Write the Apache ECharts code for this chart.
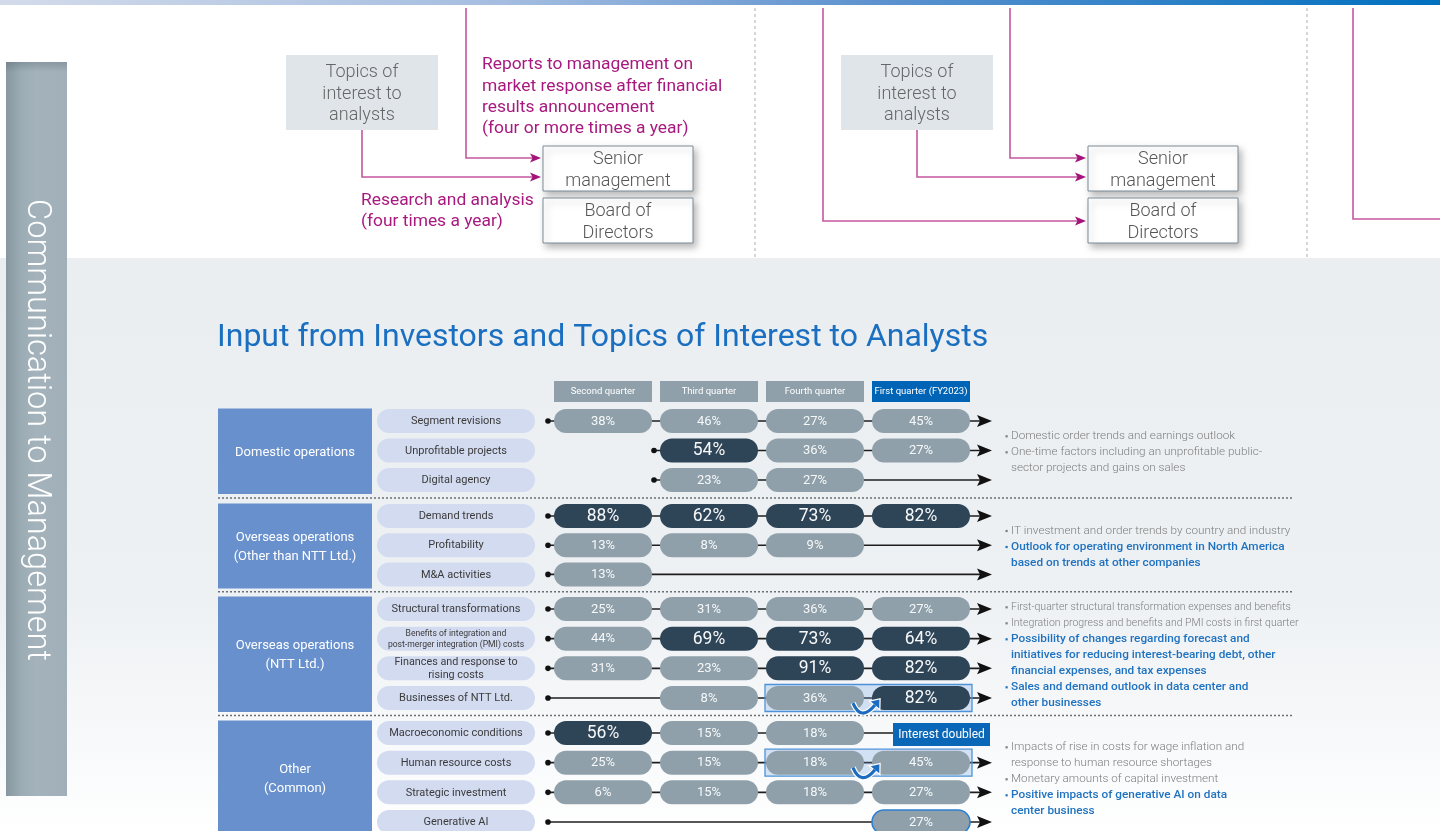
<!DOCTYPE html>
<html><head><meta charset="utf-8">
<script src="https://cdn.jsdelivr.net/npm/echarts@6/dist/echarts.min.js"></script>
<style>html,body{margin:0;padding:0;background:#fff}#c{width:1440px;height:831px}</style>
</head><body><div id="c"></div>
<script>
// ---------------- data ----------------
const quarters = ['Second quarter', 'Third quarter', 'Fourth quarter', 'First quarter (FY2023)'];
const groupNames = ['Domestic operations', 'Overseas operations\n(Other than NTT Ltd.)', 'Overseas operations\n(NTT Ltd.)', 'Other\n(Common)'];

const domesticTopics = ['Segment revisions', 'Unprofitable projects', 'Digital agency'];
const domesticShares = [[38, 46, 27, 45], [null, 54, 36, 27], [null, 23, 27, null]];
const domesticFirstQuarter = [0, 1, 1];

const overseasTopics = ['Demand trends', 'Profitability', 'M&A activities'];
const overseasShares = [[88, 62, 73, 82], [13, 8, 9, null], [13, null, null, null]];
const overseasFirstQuarter = [0, 0, 0];

const nttTopics = ['Structural transformations', 'Benefits of integration and\npost-merger integration (PMI) costs', 'Finances and response to\nrising costs', 'Businesses of NTT Ltd.'];
const nttShares = [[25, 31, 36, 27], [44, 69, 73, 64], [31, 23, 91, 82], [null, 8, 36, 82]];
const nttFirstQuarter = [0, 0, 0, 0];

const otherTopics = ['Macroeconomic conditions', 'Human resource costs', 'Strategic investment', 'Generative AI'];
const otherShares = [[56, 15, 18, null], [25, 15, 18, 45], [6, 15, 18, 27], [null, null, null, 27]];
const otherFirstQuarter = [0, 0, 0, 0];

const doubledTopics = [['Businesses of NTT Ltd.', 2, 3], ['Human resource costs', 2, 3]];
const doubledLabel = 'Interest doubled';
const doubledLabelTopic = 'Macroeconomic conditions';
const newTopics = [['Generative AI', 3]];

const domesticNotes = ['Domestic order trends and earnings outlook', 'One-time factors including an unprofitable public-\nsector projects and gains on sales'];
const domesticNewNotes = [];
const overseasNotes = ['IT investment and order trends by country and industry'];
const overseasNewNotes = ['Outlook for operating environment in North America\nbased on trends at other companies'];
const nttNotes = ['First-quarter structural transformation expenses and benefits', 'Integration progress and benefits and PMI costs in first quarter'];
const nttNewNotes = ['Possibility of changes regarding forecast and\ninitiatives for reducing interest-bearing debt, other\nfinancial expenses, and tax expenses', 'Sales and demand outlook in data center and\nother businesses'];
const otherNotes = ['Impacts of rise in costs for wage inflation and\nresponse to human resource shortages', 'Monetary amounts of capital investment'];
const otherNewNotes = ['Positive impacts of generative AI on data\ncenter business'];

const titleText = 'Input from Investors and Topics of Interest to Analysts';
const sideText = 'Communication to Management';
const topicsBoxText = 'Topics of\ninterest to\nanalysts';
const seniorText = 'Senior\nmanagement';
const boardText = 'Board of\nDirectors';
const reportsText = 'Reports to management on\nmarket response after financial\nresults announcement\n(four or more times a year)';
const researchText = 'Research and analysis\n(four times a year)';

// ---------------- layout ----------------
const FONT = 'Roboto, "Noto Sans", "DejaVu Sans", sans-serif';
const MAG_LINE = '#c4579f', MAG_HEAD = '#a3137a', MAG_TEXT = '#a8197f';
// first: centre of first row, rowH: row pitch
const groups = [
  { name: groupNames[0], topics: domesticTopics, shares: domesticShares, first: domesticFirstQuarter, notes: domesticNotes, newNotes: domesticNewNotes, firstY: 421, rowH: 29.5 },
  { name: groupNames[1], topics: overseasTopics, shares: overseasShares, first: overseasFirstQuarter, notes: overseasNotes, newNotes: overseasNewNotes, firstY: 516, rowH: 29.2 },
  { name: groupNames[2], topics: nttTopics, shares: nttShares, first: nttFirstQuarter, notes: nttNotes, newNotes: nttNewNotes, firstY: 609, rowH: 29.67 },
  { name: groupNames[3], topics: otherTopics, shares: otherShares, first: otherFirstQuarter, notes: otherNotes, newNotes: otherNewNotes, firstY: 733, rowH: 29.67 }
];
groups.forEach(function (g) { g.lastY = g.firstY + g.rowH * (g.topics.length - 1); });

function txt(text, x, y, o) {
  o = o || {};
  const al = o.align || 'left', va = o.va || 'middle';
  const st = { text: text, x: 0, y: 0, fill: o.fill || '#333', fontSize: o.size || 12, fontWeight: o.weight || 400, fontFamily: FONT,
    align: al, textAlign: al, verticalAlign: va, textVerticalAlign: va };
  if (o.lh) st.lineHeight = o.lh;
  return { type: 'text', x: x, y: y, rotation: o.rot || 0, z: o.z || 5, silent: true, style: st };
}
function rect(x, y, w, h, style, z) {
  return { type: 'rect', z: z || 1, silent: true, shape: { x: x, y: y, width: w, height: h }, style: style };
}
function poly(points, stroke, w, z) {
  return { type: 'polyline', z: z || 3, silent: true, shape: { points: points }, style: { stroke: stroke, lineWidth: w, fill: null } };
}
function headR(xTip, y) {
  return { type: 'polygon', z: 4, silent: true, shape: { points: [[xTip - 11, y - 4.5], [xTip, y], [xTip - 11, y + 4.5], [xTip - 8.5, y]] }, style: { fill: MAG_HEAD } };
}
const shadow = { shadowBlur: 7, shadowOffsetX: 3, shadowOffsetY: 4, shadowColor: 'rgba(0,0,0,0.28)' };
function whiteBox(x, y, label) {
  return [rect(x, y, 150, 45, Object.assign({ fill: '#fff', stroke: '#7d8c97', lineWidth: 1 }, shadow), 3),
          txt(label, x + 75, y + 24.5, { align: 'center', size: 18, weight: 300, fill: '#555', lh: 22 })];
}

const graphics = [];
// backgrounds
graphics.push(rect(0, 258, 1440, 573, { fill: { type: 'linear', x: 0, y: 0, x2: 0, y2: 1, colorStops: [
  { offset: 0, color: '#eaeef1' }, { offset: 0.6, color: '#eef1f4' }, { offset: 0.9, color: '#fafbfc' }, { offset: 1, color: '#ffffff' }] } }, -5));
graphics.push(rect(0, 0, 1440, 5, { fill: { type: 'linear', x: 0, y: 0, x2: 1, y2: 0, colorStops: [
  { offset: 0, color: '#d3dbea' }, { offset: 0.35, color: '#a4bde0' }, { offset: 0.6, color: '#5f93cf' }, { offset: 1, color: '#0070bf' }] } }, 2));
[755, 1307].forEach(function (x) {
  graphics.push({ type: 'line', z: 1, silent: true, shape: { x1: x, y1: 8, x2: x, y2: 258 }, style: { stroke: '#a9afb4', lineWidth: 1, lineDash: [3, 3] } });
});
// left band
graphics.push(rect(6, 62, 61, 734, { fill: { type: 'linear', x: 0, y: 0, x2: 1, y2: 0, colorStops: [
  { offset: 0, color: '#8797a0' }, { offset: 0.25, color: '#9cacb5' }, { offset: 0.5, color: '#a4b3bb' }, { offset: 1, color: '#a1b0b8' }] } }, 2));
graphics.push(rect(6, 62, 61, 10, { fill: { type: 'linear', x: 0, y: 0, x2: 0, y2: 1, colorStops: [
  { offset: 0, color: 'rgba(60,75,85,0.25)' }, { offset: 1, color: 'rgba(60,75,85,0)' }] } }, 3));
graphics.push(txt(sideText, 36, 430, { align: 'center', size: 32.5, weight: 300, fill: '#ffffff', rot: -Math.PI / 2 }));

// top-left diagram
graphics.push(rect(286, 55, 152, 75, { fill: '#dfe5e9' }, 2));
graphics.push(txt(topicsBoxText, 362, 94, { align: 'center', size: 18, weight: 300, fill: '#666', lh: 21.5 }));
whiteBox(543, 146, seniorText).forEach(function (e) { graphics.push(e); });
whiteBox(543, 198, boardText).forEach(function (e) { graphics.push(e); });
graphics.push(poly([[466, 8], [466, 158], [533, 158]], MAG_LINE, 1.6));
graphics.push(headR(541, 158));
graphics.push(poly([[362, 130], [362, 177], [533, 177]], MAG_LINE, 1.6));
graphics.push(headR(541, 177));
graphics.push(txt(reportsText, 482, 54.5, { va: 'top', size: 17.4, fill: MAG_TEXT, lh: 21.3 }));
graphics.push(txt(researchText, 361, 190, { va: 'top', size: 17.4, fill: MAG_TEXT, lh: 21.3 }));

// top-middle diagram
graphics.push(rect(841, 55, 152, 75, { fill: '#dfe5e9' }, 2));
graphics.push(txt(topicsBoxText, 917, 94, { align: 'center', size: 18, weight: 300, fill: '#666', lh: 21.5 }));
whiteBox(1088, 146, seniorText).forEach(function (e) { graphics.push(e); });
whiteBox(1088, 198, boardText).forEach(function (e) { graphics.push(e); });
graphics.push(poly([[823, 8], [823, 221], [1078, 221]], MAG_LINE, 1.6));
graphics.push(headR(1086, 221));
graphics.push(poly([[1010, 8], [1010, 158], [1078, 158]], MAG_LINE, 1.6));
graphics.push(headR(1086, 158));
graphics.push(poly([[917, 130], [917, 177], [1078, 177]], MAG_LINE, 1.6));
graphics.push(headR(1086, 177));
// top-right fragment
graphics.push(poly([[1353, 8], [1353, 219], [1440, 219]], MAG_LINE, 1.6));

// title
graphics.push(txt(titleText, 217, 338, { size: 32, fill: '#1b6fc0' }));

// group boxes, separators, notes
groups.forEach(function (g, gi) {
  const bTop = g.firstY - 12.5, bBot = g.lastY + 14;
  graphics.push(rect(218, bTop, 154, bBot - bTop, { fill: '#6890cc' }, 2));
  graphics.push(txt(g.name, 295, (bTop + bBot) / 2 + 1, { align: 'center', size: 13, fill: '#fff', lh: 19 }));
  if (gi > 0) {
    const sy = (groups[gi - 1].lastY + g.firstY) / 2;
    graphics.push({ type: 'line', z: 2, silent: true, shape: { x1: 218, y1: sy, x2: 1292, y2: sy }, style: { stroke: '#6a6f74', lineWidth: 1.5, lineDash: [2, 2] } });
  }
  const lines = [];
  g.notes.forEach(function (n) { n.split('\n').forEach(function (l, k) { lines.push({ t: l, b: k === 0, blue: false }); }); });
  g.newNotes.forEach(function (n) { n.split('\n').forEach(function (l, k) { lines.push({ t: l, b: k === 0, blue: true }); }); });
  const cy = (g.firstY + g.lastY) / 2 + 1.5;
  const y0 = cy - (lines.length - 1) * 8;
  lines.forEach(function (ln, k) {
    const y = y0 + k * 16;
    const col = ln.blue ? '#1f72c0' : '#7d7d7d';
    if (ln.b) graphics.push(rect(1005.5, y - 0.8, 2.2, 2.2, { fill: col }, 3));
    const size = ln.blue ? 11.8 : (ln.t.length > 56 ? 10.5 : 11.7);
    graphics.push(txt(ln.t, 1011, y, { size: size, weight: ln.blue ? 500 : 300, fill: col }));
  });
});

// ---------------- series renderers ----------------
function makeRowRender(g) {
  return function (params, api) {
    const i = params.dataIndex;
    const first = api.value(0), row = api.value(1);
    const c0 = api.coord([0, row]), cs = api.coord([first, row]), c3 = api.coord([3, row]);
    const y = c0[1];
    const label = g.topics[i];
    const ls = label.split('\n');
    const maxLen = Math.max.apply(null, ls.map(function (s) { return s.length; }));
    const fs = ls.length > 1 ? (maxLen > 28 ? 8.6 : 10.8) : 11;
    const ch = [];
    ch.push({ type: 'rect', shape: { x: c0[0] - 226, y: y - 12, width: 158, height: 24, r: 12 }, style: { fill: '#d3dbf0' } });
    ch.push({ type: 'text', style: { text: label, x: c0[0] - 147, y: y + 0.5, align: 'center', textAlign: 'center', verticalAlign: 'middle', textVerticalAlign: 'middle',
      fill: '#3b3b3b', fontSize: fs, lineHeight: fs + 2.6, fontFamily: FONT } });
    const dx = cs[0] - 55;
    const isDoubled = label === doubledLabelTopic;
    const endX = isDoubled ? c3[0] - 28 : c3[0] + 60;
    ch.push({ type: 'line', shape: { x1: dx, y1: y, x2: endX, y2: y }, style: { stroke: '#1e1e1e', lineWidth: 1.6 } });
    ch.push({ type: 'circle', shape: { cx: dx, cy: y, r: 2.8 }, style: { fill: '#111' } });
    if (isDoubled) {
      ch.push({ type: 'rect', shape: { x: c3[0] - 28, y: y - 10, width: 97, height: 23 }, style: { fill: '#0a66b7' } });
      ch.push({ type: 'text', style: { text: doubledLabel, x: c3[0] + 20.5, y: y + 1.5, align: 'center', textAlign: 'center', verticalAlign: 'middle', textVerticalAlign: 'middle',
        fill: '#fff', fontSize: 12, fontFamily: FONT } });
    } else {
      ch.push({ type: 'polygon', shape: { points: [[c3[0] + 56, y - 6], [c3[0] + 71, y], [c3[0] + 56, y + 6], [c3[0] + 59, y]] }, style: { fill: '#111' } });
    }
    return { type: 'group', children: ch };
  };
}
function makeValRender(g) {
  return function (params, api) {
    const q = api.value(0), row = api.value(1), v = api.value(2);
    const c = api.coord([q, row]);
    const dark = v >= 50;
    const outlined = newTopics.some(function (n) { return n[0] === g.topics[row] && n[1] === q; });
    return { type: 'group', children: [
      { type: 'rect', shape: { x: c[0] - 49, y: c[1] - 12, width: 98, height: 24, r: 12 },
        style: { fill: dark ? '#2e4457' : '#8fa0aa', stroke: outlined ? '#2b7fd2' : null, lineWidth: outlined ? 1.6 : 0 } },
      { type: 'text', style: { text: v + '%', x: c[0], y: c[1] + 0.5, align: 'center', textAlign: 'center', verticalAlign: 'middle', textVerticalAlign: 'middle',
        fill: '#f6f8f9', fontSize: dark ? 17.5 : 13, fontWeight: 400, fontFamily: FONT } }
    ] };
  };
}
function renderHL(params, api) {
  const a = api.coord([api.value(0), api.value(1)]), b = api.coord([api.value(2), api.value(1)]);
  return { type: 'rect', shape: { x: a[0] - 50, y: a[1] - 13.5, width: b[0] - a[0] + 101, height: 27 },
    style: { fill: 'rgba(110,160,225,0.27)', stroke: '#4d92d8', lineWidth: 1.3 } };
}
function renderCurl(params, api) {
  const a = api.coord([api.value(0), api.value(1)]), b = api.coord([api.value(2), api.value(1)]);
  const y = a[1];
  const sx = a[0] + 38, sy = y + 5, ex = b[0] - 46, ey = y + 7;
  const cx = (sx + ex) / 2 - 3, cy = y + 24;
  let ux = ex - cx, uy = ey - cy; const L = Math.hypot(ux, uy); ux /= L; uy /= L;
  const px = -uy, py = ux;
  const tip = [ex + ux * 7, ey + uy * 7];
  const head = [tip, [ex + px * 5.5, ey + py * 5.5], [ex - px * 5.5, ey - py * 5.5]];
  return { type: 'group', children: [
    { type: 'bezierCurve', shape: { x1: sx, y1: sy, cpx1: cx, cpy1: cy, x2: ex, y2: ey }, style: { stroke: '#ffffff', lineWidth: 5.5, fill: null } },
    { type: 'polygon', shape: { points: head }, style: { fill: '#ffffff', stroke: '#ffffff', lineWidth: 2.5 } },
    { type: 'bezierCurve', shape: { x1: sx, y1: sy, cpx1: cx, cpy1: cy, x2: ex, y2: ey }, style: { stroke: '#1b6cc0', lineWidth: 3.2, fill: null } },
    { type: 'polygon', shape: { points: head }, style: { fill: '#1b6cc0' } }
  ] };
}

// ---------------- option ----------------
const grids = [], xAxes = [], yAxes = [], series = [];
groups.forEach(function (g, gi) {
  grids.push({ left: 550, width: 424, top: g.firstY, height: g.lastY - g.firstY });
  xAxes.push({ type: 'category', gridIndex: gi, data: quarters, position: 'top', show: gi === 0, z: 10,
    axisLine: { show: false }, axisTick: { show: false }, splitLine: { show: false },
    axisLabel: { interval: 0, margin: 19,
      formatter: function (v, i) { return (i === 3 ? '{b|' : '{a|') + v + '}'; },
      rich: {
        a: { width: 98, height: 21, lineHeight: 21, backgroundColor: '#8fa0aa', color: '#fff', fontSize: 9.5, align: 'center', fontFamily: FONT },
        b: { width: 98, height: 21, lineHeight: 21, backgroundColor: '#0064b6', color: '#fff', fontSize: 9.5, align: 'center', fontFamily: FONT }
      } } });
  yAxes.push({ type: 'category', gridIndex: gi, data: g.topics, inverse: true, boundaryGap: false, show: false });
  series.push({ type: 'custom', xAxisIndex: gi, yAxisIndex: gi, z: 2, silent: true, clip: false, renderItem: makeRowRender(g),
    data: g.topics.map(function (t, i) { return [g.first[i], i]; }) });
  const hl = doubledTopics.filter(function (d) { return g.topics.indexOf(d[0]) >= 0; })
    .map(function (d) { return [d[1], g.topics.indexOf(d[0]), d[2]]; });
  if (hl.length) series.push({ type: 'custom', xAxisIndex: gi, yAxisIndex: gi, z: 3, silent: true, clip: false, renderItem: renderHL, data: hl });
  const vals = [];
  g.shares.forEach(function (r, i) { r.forEach(function (v, q) { if (v != null) vals.push([q, i, v]); }); });
  series.push({ type: 'custom', xAxisIndex: gi, yAxisIndex: gi, z: 4, silent: true, clip: false, renderItem: makeValRender(g), data: vals });
  if (hl.length) series.push({ type: 'custom', xAxisIndex: gi, yAxisIndex: gi, z: 5, silent: true, clip: false, renderItem: renderCurl, data: hl });
});

const chart = echarts.init(document.getElementById('c'));
chart.setOption({
  animation: false,
  backgroundColor: '#ffffff',
  grid: grids, xAxis: xAxes, yAxis: yAxes, series: series,
  graphic: { elements: graphics }
});
</script>
</body></html>
